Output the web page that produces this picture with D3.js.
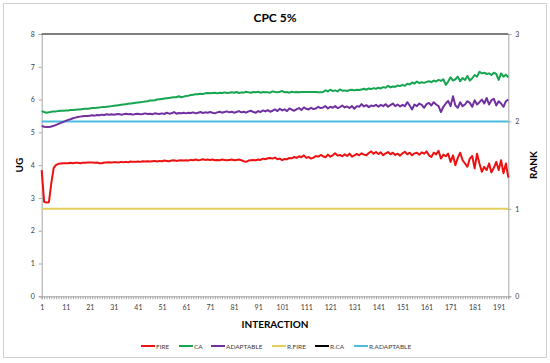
<!DOCTYPE html>
<html>
<head>
<meta charset="utf-8">
<script src="https://cdn.jsdelivr.net/npm/d3@7"></script>
<style>
  body { margin: 0; background: #fff; }
  text { font-family: Lato, "Open Sans", sans-serif; }
</style>
</head>
<body>
<div id="chart"></div>
<script>
// series values (UG, left axis), one per interaction 1..195
var fire = [
  3.85, 2.88, 2.86, 2.87, 3.45, 3.92, 4.01, 4.04, 4.05, 4.06,
  4.06, 4.06, 4.07, 4.06, 4.07, 4.07, 4.06, 4.07, 4.07, 4.08,
  4.08, 4.08, 4.07, 4.08, 4.06, 4.06, 4.08, 4.08, 4.09, 4.08,
  4.09, 4.09, 4.08, 4.10, 4.09, 4.10, 4.09, 4.11, 4.10, 4.10,
  4.11, 4.10, 4.12, 4.11, 4.12, 4.11, 4.12, 4.13, 4.11, 4.13,
  4.12, 4.14, 4.13, 4.12, 4.14, 4.15, 4.13, 4.14, 4.15, 4.14,
  4.15, 4.14, 4.16, 4.15, 4.17, 4.15, 4.16, 4.18, 4.16, 4.17,
  4.16, 4.17, 4.15, 4.16, 4.15, 4.17, 4.16, 4.15, 4.16, 4.17,
  4.15, 4.16, 4.17, 4.15, 4.12, 4.10, 4.14, 4.15, 4.16, 4.15,
  4.17, 4.16, 4.20, 4.18, 4.21, 4.22, 4.20, 4.23, 4.18, 4.20,
  4.15, 4.19, 4.18, 4.22, 4.21, 4.25, 4.22, 4.27, 4.24, 4.30,
  4.22, 4.25, 4.20, 4.23, 4.28, 4.26, 4.31, 4.27, 4.24, 4.32,
  4.26, 4.30, 4.36, 4.29, 4.31, 4.27, 4.33, 4.28, 4.35, 4.26,
  4.30, 4.34, 4.30, 4.36, 4.32, 4.30, 4.37, 4.42, 4.35, 4.40,
  4.34, 4.39, 4.30, 4.36, 4.40, 4.33, 4.38, 4.31, 4.35, 4.29,
  4.36, 4.41, 4.33, 4.38, 4.30, 4.36, 4.38, 4.32, 4.39, 4.35,
  4.42, 4.30, 4.25, 4.38, 4.33, 4.44, 4.20, 4.32, 4.27, 4.35,
  4.10, 4.30, 4.00, 4.22, 4.38, 4.15, 4.05, 3.95, 4.20, 4.28,
  3.90, 4.35, 4.05, 3.80, 3.95, 3.85, 4.05, 3.78, 3.92, 4.10,
  3.85, 4.15, 3.75, 4.05, 3.62
];
var ca = [
  5.65, 5.62, 5.60, 5.61, 5.63, 5.64, 5.64, 5.65, 5.66, 5.66,
  5.67, 5.67, 5.68, 5.68, 5.69, 5.70, 5.70, 5.71, 5.72, 5.72,
  5.73, 5.74, 5.74, 5.75, 5.76, 5.77, 5.77, 5.78, 5.79, 5.80,
  5.81, 5.82, 5.83, 5.84, 5.85, 5.86, 5.87, 5.88, 5.89, 5.90,
  5.91, 5.92, 5.93, 5.94, 5.95, 5.97, 5.97, 5.98, 6.00, 6.01,
  6.02, 6.03, 6.04, 6.05, 6.06, 6.07, 6.07, 6.10, 6.07, 6.09,
  6.11, 6.12, 6.14, 6.15, 6.16, 6.16, 6.18, 6.17, 6.19, 6.20,
  6.19, 6.20, 6.21, 6.19, 6.21, 6.20, 6.22, 6.20, 6.21, 6.22,
  6.21, 6.23, 6.20, 6.22, 6.21, 6.24, 6.22, 6.21, 6.23, 6.22,
  6.24, 6.21, 6.23, 6.22, 6.22, 6.21, 6.25, 6.23, 6.22, 6.24,
  6.26, 6.22, 6.23, 6.21, 6.24, 6.22, 6.23, 6.22, 6.23, 6.23,
  6.23, 6.23, 6.23, 6.23, 6.23, 6.22, 6.22, 6.23, 6.28, 6.25,
  6.30, 6.26, 6.28, 6.25, 6.31, 6.27, 6.28, 6.26, 6.29, 6.30,
  6.28, 6.30, 6.29, 6.31, 6.33, 6.30, 6.34, 6.32, 6.35, 6.33,
  6.36, 6.34, 6.38, 6.36, 6.42, 6.37, 6.40, 6.39, 6.43, 6.41,
  6.45, 6.42, 6.48, 6.46, 6.52, 6.49, 6.55, 6.50, 6.53, 6.51,
  6.54, 6.56, 6.53, 6.58, 6.55, 6.60, 6.57, 6.62, 6.45, 6.55,
  6.68, 6.58, 6.62, 6.70, 6.56, 6.66, 6.60, 6.72, 6.58, 6.65,
  6.75, 6.70, 6.85, 6.80, 6.82, 6.78, 6.80, 6.75, 6.82, 6.78,
  6.60, 6.80, 6.70, 6.76, 6.68
];
var adaptable = [
  5.20, 5.17, 5.16, 5.16, 5.18, 5.20, 5.23, 5.26, 5.29, 5.32,
  5.35, 5.38, 5.40, 5.43, 5.45, 5.47, 5.48, 5.49, 5.50, 5.50,
  5.51, 5.52, 5.51, 5.53, 5.52, 5.54, 5.53, 5.55, 5.54, 5.55,
  5.54, 5.55, 5.56, 5.54, 5.55, 5.57, 5.55, 5.56, 5.54, 5.56,
  5.57, 5.55, 5.56, 5.58, 5.56, 5.57, 5.55, 5.58, 5.57, 5.56,
  5.58, 5.56, 5.60, 5.57, 5.58, 5.62, 5.57, 5.59, 5.58, 5.60,
  5.58, 5.60, 5.59, 5.61, 5.58, 5.60, 5.62, 5.59, 5.61, 5.60,
  5.62, 5.60, 5.58, 5.61, 5.63, 5.60, 5.62, 5.64, 5.61, 5.63,
  5.60, 5.62, 5.65, 5.61, 5.63, 5.60, 5.64, 5.66, 5.62, 5.60,
  5.65, 5.62, 5.67, 5.64, 5.68, 5.63, 5.66, 5.70, 5.65, 5.72,
  5.67, 5.70, 5.65, 5.73, 5.69, 5.66, 5.71, 5.74, 5.68, 5.76,
  5.72, 5.70, 5.75, 5.71, 5.73, 5.78, 5.74, 5.76, 5.80, 5.73,
  5.78, 5.75, 5.80, 5.74, 5.77, 5.82, 5.76, 5.79, 5.74, 5.80,
  5.72, 5.80, 5.78, 5.86, 5.79, 5.83, 5.77, 5.82, 5.80, 5.84,
  5.78, 5.84, 5.80, 5.86, 5.78, 5.83, 5.88, 5.80, 5.85, 5.79,
  5.84, 5.80, 5.92, 5.82, 5.70, 5.85, 5.80, 5.88, 5.84, 5.75,
  5.86, 5.90, 5.82, 5.92, 5.85, 5.80, 5.62, 5.78, 5.88, 5.96,
  5.80, 6.10, 5.82, 5.75, 5.92, 5.80, 5.85, 5.95, 5.90, 5.78,
  5.98, 5.85, 5.92, 6.00, 5.88, 6.05, 5.85, 5.98, 6.02, 5.82,
  5.95, 5.88, 5.78, 5.95, 6.00
];
// rank series (right axis), constant over all interactions
var rankNames = ["R.FIRE", "R.CA", "R.ADAPTABLE"];
var rankValues = [1, 3, 2];

var ugTicks = [0, 1, 2, 3, 4, 5, 6, 7, 8];
var rankTicks = [0, 1, 2, 3];
var xLabelEvery = 10;

var categories = fire.map(function(d, i) { return i + 1; });

const W = 550, H = 363;
const margin = {top: 34, right: 41.7, bottom: 66.7, left: 41.7},
    width = W - margin.left - margin.right,
    height = H - margin.top - margin.bottom;

var svg = d3.select("#chart").append("svg")
    .attr("width", W).attr("height", H);

// outer chart border
svg.append("rect")
    .attr("x", 3.5).attr("y", 3.5)
    .attr("width", 543).attr("height", 354)
    .attr("fill", "#fff").attr("stroke", "#d0d0d0").attr("stroke-width", 1);

svg.append("text")
    .attr("x", W / 2).attr("y", 22)
    .attr("text-anchor", "middle")
    .style("font-size", "12px").style("font-weight", "bold")
    .attr("fill", "#000")
    .text("CPC 5%");

var g = svg.append("g")
    .attr("transform", `translate(${margin.left}, ${margin.top})`);

var x = d3.scalePoint().domain(categories).range([0, width]);
var y = d3.scaleLinear().domain([0, 8]).range([height, 0]);
var y2 = d3.scaleLinear().domain([0, 3]).range([height, 0]);

// left axis
var yAxis = g.append("g")
    .call(d3.axisLeft(y).tickValues(ugTicks).tickSize(3).tickPadding(4)
        .tickFormat(d3.format("d")));
// right axis
var y2Axis = g.append("g")
    .attr("transform", `translate(${width}, 0)`)
    .call(d3.axisRight(y2).tickValues(rankTicks).tickSize(3).tickPadding(4)
        .tickFormat(d3.format("d")));
// x axis: a minor tick at every category, labels every 10
var xAxis = g.append("g")
    .attr("transform", `translate(0, ${height})`)
    .call(d3.axisBottom(x).tickSize(3).tickPadding(6)
        .tickFormat(function(d) { return (d - 1) % xLabelEvery === 0 ? d : ""; }));

[yAxis, y2Axis, xAxis].forEach(function(a) {
    a.select(".domain").attr("stroke", "#a6a6a6");
    a.selectAll(".tick line").attr("stroke", "#a6a6a6");
    a.selectAll(".tick text").attr("fill", "#404040")
        .style("font-size", "7px");
});

// axis titles
svg.append("text")
    .attr("transform", "translate(23," + (margin.top + height / 2) + ") rotate(-90)")
    .attr("text-anchor", "middle")
    .style("font-size", "10px").style("font-weight", "bold")
    .text("UG");
svg.append("text")
    .attr("transform", "translate(537," + (margin.top + height / 2) + ") rotate(-90)")
    .attr("text-anchor", "middle")
    .style("font-size", "10px").style("font-weight", "bold")
    .text("RANK");
svg.append("text")
    .attr("x", W / 2).attr("y", 328)
    .attr("text-anchor", "middle")
    .style("font-size", "10px").style("font-weight", "bold")
    .text("INTERACTION");

var rankColors = {"R.FIRE": "#e3cf5c", "R.CA": "#000000", "R.ADAPTABLE": "#4bbce0"};

// rank lines
rankNames.forEach(function(name, i) {
    var pts = [categories[0], categories[categories.length - 1]];
    g.append("path")
        .datum(pts)
        .attr("fill", "none")
        .attr("stroke", rankColors[name])
        .attr("stroke-width", name === "R.CA" ? 1.2 : 2)
        .attr("d", d3.line()
            .x(function(d) { return x(d); })
            .y(function() { return y2(rankValues[i]); }));
});

var series = [
    {name: "FIRE", values: fire, color: "#ee1111"},
    {name: "CA", values: ca, color: "#16a550"},
    {name: "ADAPTABLE", values: adaptable, color: "#7030a0"}
];

var line = d3.line()
    .x(function(d, i) { return x(categories[i]); })
    .y(function(d) { return y(d); });

series.forEach(function(s) {
    g.append("path")
        .datum(s.values)
        .attr("fill", "none")
        .attr("stroke", s.color)
        .attr("stroke-width", 2)
        .attr("stroke-linejoin", "round")
        .attr("d", line);
});

// legend
var legendItems = [
    {name: "FIRE", color: "#ee1111", x: 141},
    {name: "CA", color: "#16a550", x: 179},
    {name: "ADAPTABLE", color: "#7030a0", x: 211},
    {name: "R.FIRE", color: rankColors["R.FIRE"], x: 272},
    {name: "R.CA", color: rankColors["R.CA"], x: 315},
    {name: "R.ADAPTABLE", color: rankColors["R.ADAPTABLE"], x: 354}
];
var legend = svg.append("g").selectAll("g")
    .data(legendItems)
    .join("g")
    .attr("transform", function(d) { return "translate(" + d.x + ",346)"; });
legend.append("line")
    .attr("x1", 0).attr("x2", 14)
    .attr("stroke", function(d) { return d.color; })
    .attr("stroke-width", 2);
legend.append("text")
    .attr("x", 15).attr("y", 2.5)
    .style("font-size", "6.5px")
    .attr("fill", "#404040")
    .text(function(d) { return d.name; });
</script>
</body>
</html>
